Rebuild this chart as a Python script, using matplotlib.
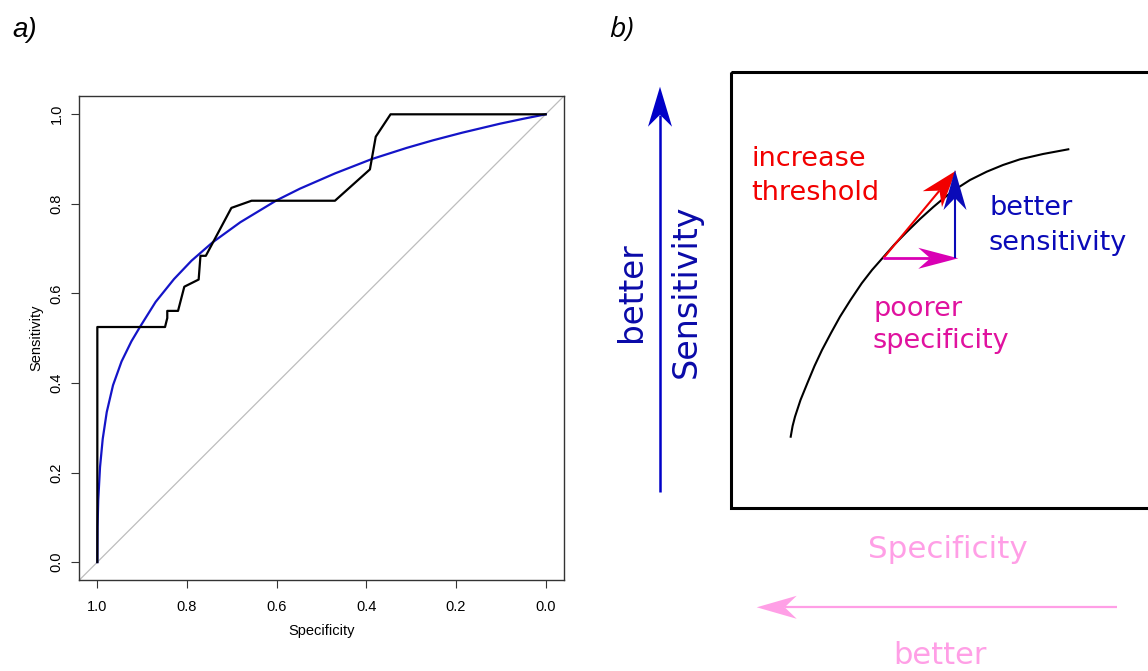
import numpy as np
import matplotlib
matplotlib.use("Agg")
import matplotlib.pyplot as plt
from matplotlib.patches import Rectangle, Polygon

plt.rcParams["font.family"] = ["Liberation Sans", "DejaVu Sans"]

# ── panel a: ROC curve (specificity, sensitivity) ─────────────────
roc_spec = [1.000, 1.000, 0.849, 0.844, 0.844, 0.820, 0.806, 0.774, 0.770,
            0.758, 0.701, 0.656, 0.470, 0.392, 0.379, 0.346, 0.000]
roc_sens = [0.000, 0.525, 0.525, 0.545, 0.561, 0.561, 0.615, 0.631, 0.684,
            0.684, 0.791, 0.807, 0.807, 0.877, 0.950, 1.000, 1.000]

smooth_spec = [1.000, 0.9995, 0.998, 0.994, 0.988, 0.979, 0.965, 0.946, 0.924,
               0.905, 0.870, 0.829, 0.790, 0.743, 0.681, 0.600, 0.548, 0.470,
               0.388, 0.310, 0.251, 0.186, 0.102, 0.050, 0.000]
smooth_sens = [0.000, 0.078, 0.138, 0.212, 0.275, 0.335, 0.395, 0.448, 0.493,
               0.525, 0.581, 0.632, 0.673, 0.714, 0.759, 0.808, 0.834, 0.868,
               0.900, 0.925, 0.942, 0.959, 0.979, 0.990, 1.000]

ticks = [1.0, 0.8, 0.6, 0.4, 0.2, 0.0]
tick_labels = ["1.0", "0.8", "0.6", "0.4", "0.2", "0.0"]

# ── panel b: schematic, coordinates in picture pixels ────────────
curve_x = [790.7, 792.6, 795, 800.5, 807.3, 814.5, 822, 831, 840, 850.5,
           861.7, 872, 882.3, 894, 906.7, 920, 933.3, 944, 955, 970, 986.7,
           1003, 1020, 1043, 1068.3]
curve_y = [436.7, 426, 416.7, 400, 383.3, 366, 350, 333, 316.7, 300,
           283.3, 270, 258.3, 245, 232, 219, 207, 198, 189.6, 180, 171.7,
           165, 159.3, 154, 149.3]
box_xywh = (731, 71.7, 520, 436.6)

# start x, start y, tip x, tip y
red_arrow = (883.3, 258.3, 956, 170.7)
blue_arrow = (955, 258.3, 955, 170)
magenta_arrow = (883.3, 258.3, 958.3, 258.3)
sens_arrow = (660, 491.7, 660, 86.7)
spec_arrow = (1116.7, 607.3, 756.7, 607.3)

RED = "#f20000"
BLUE = "#0a0ab8"
MAGENTA = "#d900b4"
MAG_TXT = "#e0129f"
PINK = "#ff9fe6"

fig = plt.figure(figsize=(11.48, 6.71), dpi=100)

# ── panel a ──────────────────────────────────────────────────────
ax = fig.add_axes([79.4 / 1148, (671 - 580) / 671, 484.2 / 1148, 483.6 / 671])
ax.axline((1, 0), (0, 1), color="#bdbdbd", lw=0.9, zorder=1)
ax.plot(smooth_spec, smooth_sens, color="#1414c8", lw=1.6, zorder=2)
ax.plot(roc_spec, roc_sens, color="black", lw=1.6, zorder=3)
ax.set_xlim(1.04, -0.04)
ax.set_ylim(-0.04, 1.04)
ax.set_xticks(ticks)
ax.set_xticklabels(tick_labels)
ax.set_yticks(ticks)
ax.set_yticklabels(tick_labels, rotation=90, va="center")
for s in ax.spines.values():
    s.set_color("#333333")
    s.set_linewidth(1.0)
ax.tick_params(direction="out", length=5.5, width=0.8, color="#333333",
               labelsize=10.5)
ax.tick_params(axis="x", pad=9)
ax.tick_params(axis="y", pad=6)
ax.set_xlabel("Specificity", fontsize=10.5)
ax.set_ylabel("Sensitivity", fontsize=10.5)
ax.xaxis.set_label_coords(0.5, -0.09)
ax.yaxis.set_label_coords(-0.074, 0.5)

fig.text(12 / 1148, 1 - 37 / 671, "a)", fontsize=20, style="italic", va="baseline")
fig.text(609 / 1148, 1 - 37 / 671, "b)", fontsize=20.5, style="italic", va="baseline",
         family=["Open Sans", "DejaVu Sans"])

# ── panel b ──────────────────────────────────────────────────────
axb = fig.add_axes([600 / 1148, 0, 548 / 1148, 1])
axb.set_xlim(600, 1148)
axb.set_ylim(671, 0)
axb.axis("off")


def stealth(a, arrow, color, lw, hl=38, hw=24, z=3):
    x0, y0, x1, y1 = arrow
    u = np.array([x1 - x0, y1 - y0], dtype=float)
    u /= np.hypot(*u)
    n = np.array([-u[1], u[0]])
    tip = np.array([x1, y1])
    back = tip - hl * u
    notch = tip - 0.7 * hl * u
    a.plot([x0, notch[0]], [y0, notch[1]], color=color, lw=lw,
           solid_capstyle="butt", zorder=z)
    a.add_patch(Polygon([tip, back + hw / 2 * n, notch, back - hw / 2 * n],
                        closed=True, facecolor=color, edgecolor="none", zorder=z))


bx, by, bw, bh = box_xywh
axb.add_patch(Rectangle((bx, by), bw, bh, fill=False, edgecolor="black",
                        lw=2.2, zorder=2))
axb.plot(curve_x, curve_y, color="black", lw=1.5, zorder=2,
         solid_joinstyle="round")

stealth(axb, red_arrow, RED, 1.5, hl=37, hw=25, z=3)
stealth(axb, magenta_arrow, MAGENTA, 2.0, hl=40, hw=21, z=3)
stealth(axb, blue_arrow, BLUE, 1.5, hl=40, hw=23, z=4)
stealth(axb, sens_arrow, "#0000c8", 1.8, hl=40, hw=24, z=3)
stealth(axb, spec_arrow, PINK, 1.6, hl=40, hw=23, z=3)

tf = dict(family=["DejaVu Sans"], fontsize=19.5, va="baseline", ha="left")
axb.text(751, 166, "increase", color=RED, **tf)
axb.text(751, 200, "threshold", color=RED, **tf)
axb.text(989, 215, "better", color=BLUE, **tf)
axb.text(989, 250, "sensitivity", color=BLUE, **tf)
axb.text(873, 316, "poorer", color=MAG_TXT, **tf)
axb.text(873, 348, "specificity", color=MAG_TXT, **tf)

axb.text(632, 291.7, "better", color="#0a0aa8", fontsize=23.5, rotation=90,
         ha="center", va="center", family=["DejaVu Sans"])
axb.text(686, 291, "Sensitivity", color="#0a0aa8", fontsize=24, rotation=90,
         ha="center", va="center", family=["DejaVu Sans"])
axb.text(947.5, 558.3, "Specificity", color=PINK, fontsize=22.3,
         ha="center", va="baseline", family=["DejaVu Sans"])
axb.text(940, 664, "better", color=PINK, fontsize=22,
         ha="center", va="baseline", family=["DejaVu Sans"])

fig.savefig("out.png", dpi=100)
